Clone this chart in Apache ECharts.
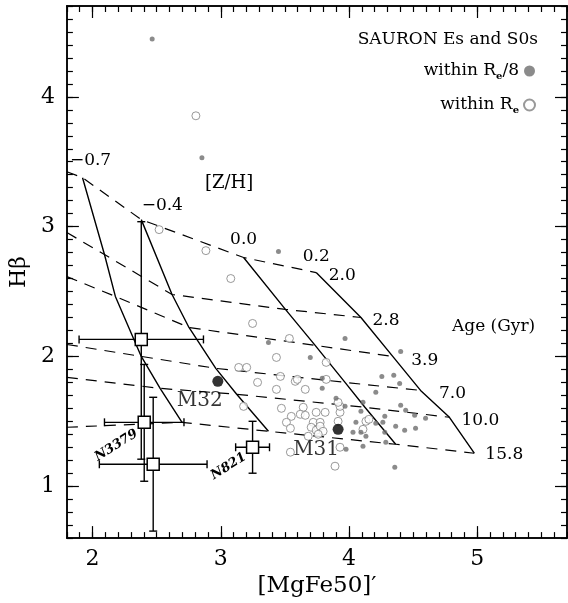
<!DOCTYPE html>
<html>
<head>
<meta charset="utf-8">
<script src="https://cdn.jsdelivr.net/npm/echarts@6/dist/echarts.min.js"></script>
<style>html,body{margin:0;padding:0;background:#fff}#c{width:568px;height:603px}</style>
</head>
<body>
<div id="c"></div>
<script>
// ---- axis ticks ----
const xMajorTicks = [2, 3, 4, 5];
const yMajorTicks = [1, 2, 3, 4];

// ---- model grid: ages (Gyr) and metallicities [Z/H] ----
const ageNames = ['2.0', '2.8', '3.9', '7.0', '10.0', '15.8'];
const zNames = ['\u22120.7', '\u22120.4', '0.0', '0.2'];
// lower-metallicity continuation of the age lines (entering at left edge)
const edgeMgFe = [1.80, 1.80, 1.80, 1.80, 1.80, 1.80];
const edgeHb   = [3.423, 2.954, 2.615, 2.092, 1.838, 1.454];
// [Z/H] = -0.7
const zm07MgFe = [1.922, 2.093, 2.178, 2.380, 2.527, 2.698];
const zm07Hb   = [3.377, 2.785, 2.462, 2.000, 1.754, 1.492];
// [Z/H] = -0.4
const zm04MgFe = [2.380, 2.620, 2.752, 2.961, 3.124, 3.372];
const zm04Hb   = [3.054, 2.477, 2.223, 1.908, 1.708, 1.423];
// [Z/H] = 0.0
const z00MgFe = [3.178, 3.504, 3.736, 3.969, 4.124, 4.364];
const z00Hb   = [2.762, 2.362, 2.085, 1.800, 1.608, 1.323];
// [Z/H] = +0.2
const zp02MgFe = [3.744, 4.093, 4.341, 4.558, 4.783, 4.977];
const zp02Hb   = [2.646, 2.300, 2.000, 1.738, 1.531, 1.254];

// ---- SAURON galaxies within Re/8 (filled) ----
const re8MgFe = [2.465, 2.853, 3.450, 3.969, 3.372, 3.698, 4.403, 4.256, 4.349, 4.395,
                 4.209, 3.791, 3.791, 3.899, 3.969, 4.109, 4.093, 4.403, 4.442, 4.512,
                 4.597, 4.279, 4.209, 4.264, 4.364, 4.434, 4.519, 4.054, 4.031, 4.093,
                 4.132, 4.109, 3.977, 4.279, 4.287, 4.357];
const re8Hb   = [4.446, 3.531, 2.808, 2.138, 2.108, 1.992, 2.038, 1.846, 1.854, 1.792,
                 1.723, 1.831, 1.754, 1.677, 1.615, 1.646, 1.577, 1.623, 1.585, 1.546,
                 1.523, 1.538, 1.485, 1.492, 1.462, 1.431, 1.446, 1.492, 1.415, 1.415,
                 1.385, 1.308, 1.285, 1.415, 1.338, 1.146];
// ---- SAURON galaxies within Re (open) ----
const reMgFe = [2.806, 2.519, 2.884, 3.078, 3.248, 3.535, 3.434, 3.822, 3.140, 3.202,
                3.287, 3.465, 3.581, 3.597, 3.822, 3.434, 3.659, 3.178, 3.473, 3.643,
                3.744, 3.814, 3.930, 3.930, 3.915, 3.915, 3.550, 3.620, 3.659, 3.512,
                3.721, 3.775, 3.543, 3.705, 3.744, 3.775, 3.798, 3.682, 3.760, 3.543,
                3.930, 3.891, 4.109, 4.132, 4.155];
const reHb   = [3.854, 2.977, 2.815, 2.600, 2.254, 2.138, 1.992, 1.954, 1.915, 1.915,
                1.800, 1.846, 1.808, 1.823, 1.823, 1.746, 1.746, 1.615, 1.600, 1.608,
                1.569, 1.569, 1.569, 1.615, 1.646, 1.500, 1.538, 1.554, 1.546, 1.492,
                1.492, 1.492, 1.446, 1.454, 1.431, 1.462, 1.423, 1.385, 1.400, 1.262,
                1.300, 1.154, 1.438, 1.500, 1.515];

// ---- Local Group reference galaxies ----
const lgNames = ['M32', 'M31'];
const lgMgFe = [2.977, 3.915];
const lgHb   = [1.808, 1.438];

// ---- observed points with error bars ----
const obsNames = ['', 'N3379', '', 'N821'];
const obsMgFe = [2.380, 2.403, 2.473, 3.248];
const obsHb   = [2.131, 1.492, 1.169, 1.300];
const obsMgFeErr = [0.485, 0.310, 0.420, 0.132];
const obsHbErrHi = [0.907, 0.446, 0.516, 0.200];
const obsHbErrLo = [0.923, 0.454, 0.515, 0.200];

// ---------------- build ----------------
const FONT = "'DejaVu Serif', serif";
const zip = (a, b) => a.map((v, i) => [v, b[i]]);
const zCols = [[zm07MgFe, zm07Hb], [zm04MgFe, zm04Hb], [z00MgFe, z00Hb], [zp02MgFe, zp02Hb]];
const allCols = [[edgeMgFe, edgeHb]].concat(zCols);

const series = [];
// dashed age lines
ageNames.forEach((a, i) => {
  series.push({
    type: 'line', name: 'age ' + a, showSymbol: false, silent: true, z: 1,
    data: allCols.map(c => [c[0][i], c[1][i]]),
    lineStyle: { color: '#000', width: 1.2, type: [11, 8] }
  });
});
// solid metallicity lines
zCols.forEach((c, j) => {
  series.push({
    type: 'line', name: 'Z ' + zNames[j], showSymbol: false, silent: true, z: 1,
    data: zip(c[0], c[1]),
    lineStyle: { color: '#000', width: 1.4 }
  });
});
// grid labels
const labelText = { fontFamily: FONT, fontSize: 17, color: '#000', textBorderWidth: 0, opacity: 1 };
const zLabelOffsets = [[8, -17], [21, -14], [0, -18], [0, -16]];
series.push({
  type: 'scatter', name: 'zlab', symbolSize: 0, silent: true, z: 3,
  itemStyle: { color: '#000' },
  data: zCols.map((c, j) => ({
    value: [c[0][0], c[1][0]],
    label: { show: true, position: 'inside', formatter: zNames[j], offset: zLabelOffsets[j] }
  })),
  label: labelText
});
const ageLabelOffsets = [[26, 3], [25, 3], [32, 4], [32, 3], [31, 3], [30, 1]];
series.push({
  type: 'scatter', name: 'agelab', symbolSize: 0, silent: true, z: 3,
  itemStyle: { color: '#000' },
  data: ageNames.map((a, i) => ({
    value: [zp02MgFe[i], zp02Hb[i]],
    label: { show: true, position: 'inside', formatter: a, offset: ageLabelOffsets[i] }
  })),
  label: labelText
});
// SAURON points
series.push({
  type: 'scatter', name: 'within Re', data: zip(reMgFe, reHb), z: 4,
  symbol: 'circle', symbolSize: 8,
  itemStyle: { color: '#fff', borderColor: '#808080', borderWidth: 1 }
});
series.push({
  type: 'scatter', name: 'within Re/8', data: zip(re8MgFe, re8Hb), z: 5,
  symbol: 'circle', symbolSize: 5,
  itemStyle: { color: '#6e6e6e' }
});
// M32, M31
const lgLabelOffsets = [[-18, 19], [-22, 20]];
series.push({
  type: 'scatter', name: 'LG', z: 6, symbolSize: 11,
  itemStyle: { color: '#000' },
  data: lgNames.map((n, i) => ({
    value: [lgMgFe[i], lgHb[i]],
    label: { show: true, position: 'inside', formatter: n, offset: lgLabelOffsets[i] }
  })),
  label: { fontFamily: FONT, fontSize: 20, color: '#000', textBorderWidth: 0 }
});
// error bar points
const obsLabelOffsets = [[0, 0], [-28, 23], [0, 0], [-24, 19]];
series.push({
  type: 'custom', name: 'obs', z: 7,
  data: obsMgFe.map((x, i) => [x, obsHb[i], obsMgFeErr[i], obsHbErrHi[i], obsHbErrLo[i], i]),
  renderItem: function (params, api) {
    const x = api.value(0), y = api.value(1);
    const xe = api.value(2), yh = api.value(3), yl = api.value(4), idx = api.value(5);
    const c = api.coord([x, y]);
    const l = api.coord([x - xe, y]), r = api.coord([x + xe, y]);
    const t = api.coord([x, y + yh]), b = api.coord([x, y - yl]);
    const st = { stroke: '#000', lineWidth: 1.4, fill: null };
    const cap = 4, hs = 6;
    const ch = [
      { type: 'line', shape: { x1: l[0], y1: l[1], x2: r[0], y2: r[1] }, style: st },
      { type: 'line', shape: { x1: l[0], y1: l[1] - cap, x2: l[0], y2: l[1] + cap }, style: st },
      { type: 'line', shape: { x1: r[0], y1: r[1] - cap, x2: r[0], y2: r[1] + cap }, style: st },
      { type: 'line', shape: { x1: t[0], y1: t[1], x2: b[0], y2: b[1] }, style: st },
      { type: 'line', shape: { x1: t[0] - cap, y1: t[1], x2: t[0] + cap, y2: t[1] }, style: st },
      { type: 'line', shape: { x1: b[0] - cap, y1: b[1], x2: b[0] + cap, y2: b[1] }, style: st },
      { type: 'rect', shape: { x: c[0] - hs, y: c[1] - hs, width: 2 * hs, height: 2 * hs },
        style: { fill: '#fff', stroke: '#000', lineWidth: 1.5 } }
    ];
    const nm = obsNames[idx];
    if (nm) {
      const o = obsLabelOffsets[idx];
      ch.push({ type: 'text', x: c[0] + o[0], y: c[1] + o[1], rotation: 32 * Math.PI / 180,
        style: { text: nm, fill: '#000', font: "italic bold 13px 'DejaVu Serif'", align: 'center', verticalAlign: 'middle' } });
    }
    return { type: 'group', children: ch };
  }
});

function minorList(lo, hi) {
  const out = [];
  for (let k = Math.round(lo * 10); k <= Math.round(hi * 10); k++) out.push(k / 10);
  return out;
}
const X0 = 1.8, X1 = 5.7, Y0 = 0.6, Y1 = 4.7;
const axLine = { show: true, lineStyle: { color: '#000', width: 1.5 } };
function xAx(pos, major, withLabel) {
  return {
    type: 'value', min: X0, max: X1, position: pos, splitLine: { show: false },
    axisLine: axLine,
    axisTick: { show: true, inside: true, length: major ? 12 : 6, lineStyle: { color: '#000', width: 1.2 },
      customValues: major ? xMajorTicks : minorList(X0, X1) },
    axisLabel: withLabel ? { show: true, customValues: xMajorTicks, fontFamily: FONT, fontSize: 22, color: '#000', margin: 10 } : { show: false },
    name: withLabel ? '[MgFe50]\u2032' : '', nameLocation: 'middle', nameGap: 34,
    nameTextStyle: { fontFamily: FONT, fontSize: 23, color: '#000' }
  };
}
function yAx(pos, major, withLabel) {
  return {
    type: 'value', min: Y0, max: Y1, position: pos, splitLine: { show: false },
    axisLine: axLine,
    axisTick: { show: true, inside: true, length: major ? 12 : 6, lineStyle: { color: '#000', width: 1.2 },
      customValues: major ? yMajorTicks : minorList(Y0, Y1) },
    axisLabel: withLabel ? { show: true, customValues: yMajorTicks, fontFamily: FONT, fontSize: 22, color: '#000', margin: 12 } : { show: false },
    name: withLabel ? 'H\u03B2' : '', nameLocation: 'middle', nameGap: 34, nameRotate: 90,
    nameTextStyle: { fontFamily: FONT, fontSize: 22, color: '#000' }
  };
}

const chart = echarts.init(document.getElementById('c'), null, { renderer: 'canvas' });
chart.setOption({
  animation: false,
  backgroundColor: '#fff',
  grid: { left: 62, right: 1, top: 6, bottom: 63, containLabel: false },
  xAxis: [xAx('bottom', true, true), xAx('bottom', false, false), xAx('top', true, false), xAx('top', false, false)],
  yAxis: [yAx('left', true, true), yAx('left', false, false), yAx('right', true, false), yAx('right', false, false)],
  legend: {
    data: ['within Re/8', 'within Re'],
    orient: 'vertical', right: 27, top: 56, align: 'right',
    itemWidth: 11, itemHeight: 11, itemGap: 14, icon: 'circle',
    formatter: n => n === 'within Re/8' ? 'within R{s|e}/8' : 'within R{s|e}',
    textStyle: { fontFamily: FONT, fontSize: 17, color: '#000', lineHeight: 20,
      rich: { s: { fontFamily: FONT, fontSize: 10, fontWeight: 'bold', color: '#000', verticalAlign: 'bottom', lineHeight: 20, padding: [8, 0, 0, 0] } } }
  },
  graphic: [
    { type: 'text', right: 30, top: 31, style: { text: 'SAURON Es and S0s', font: "17px 'DejaVu Serif'", fill: '#000' } },
    { type: 'text', left: 205, top: 174, style: { text: '[Z/H]', font: "18px 'DejaVu Serif'", fill: '#000' } },
    { type: 'text', left: 452, top: 318, style: { text: 'Age (Gyr)', font: "17px 'DejaVu Serif'", fill: '#000' } }
  ],
  series: series
});
</script>
</body>
</html>
